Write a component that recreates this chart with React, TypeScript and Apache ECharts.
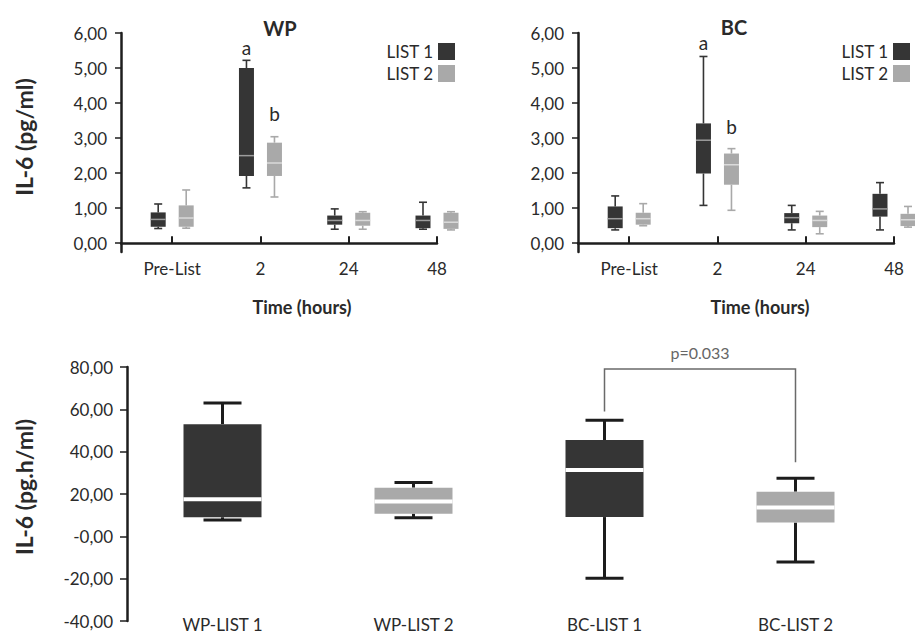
import React, { useEffect, useRef } from "react";
import * as echarts from "echarts";

// ---------- data ----------
const timeCats = ["Pre-List", "2", "24", "48"];
const timePos = [1, 2, 3, 4];
const topTicks = [0, 1, 2, 3, 4, 5, 6];

// [min, q1, median, q3, max]
const wpList1 = [
  [0.42, 0.47, 0.68, 0.88, 1.12],
  [1.58, 1.92, 2.5, 5.0, 5.22],
  [0.4, 0.53, 0.65, 0.79, 0.98],
  [0.4, 0.43, 0.65, 0.79, 1.17],
];
const wpList2 = [
  [0.43, 0.47, 0.72, 1.08, 1.52],
  [1.32, 1.92, 2.29, 2.87, 3.04],
  [0.4, 0.5, 0.65, 0.87, 0.9],
  [0.38, 0.41, 0.6, 0.87, 0.9],
];
const bcList1 = [
  [0.38, 0.43, 0.7, 1.05, 1.35],
  [1.08, 1.99, 2.94, 3.42, 5.33],
  [0.38, 0.57, 0.73, 0.86, 1.08],
  [0.38, 0.76, 0.98, 1.41, 1.73],
];
const bcList2 = [
  [0.5, 0.53, 0.7, 0.87, 1.13],
  [0.94, 1.67, 2.24, 2.56, 2.7],
  [0.27, 0.46, 0.65, 0.79, 0.91],
  [0.46, 0.49, 0.67, 0.84, 1.05],
];
// letters: [time position, list (1|2), text, y value]
const wpLetters = [
  [2, 1, "a", 5.6],
  [2, 2, "b", 3.69],
];
const bcLetters = [
  [2, 1, "a", 5.74],
  [2, 2, "b", 3.34],
];

const aucCats = ["WP-LIST 1", "WP-LIST 2", "BC-LIST 1", "BC-LIST 2"];
const aucBoxes = [
  [7.7, 9, 17.5, 53, 63],
  [8.8, 10.7, 16.4, 23, 25.4],
  [-19.8, 9.1, 31.3, 45.5, 54.8],
  [-12.1, 6.5, 13.6, 21.1, 27.4],
];
const aucList = [1, 2, 1, 2];
// bracket: [from cat, from y, to cat, to y, top y, label y]
const bracket = [[2, 59, 3, 35, 79, 87]];
const pLabel = "p=0.033";

// ---------- styles ----------
const DARK = "#353535";
const LIGHT = "#a9a9a9";
const AXIS = "#1e1e1e";
const TXT = "#2a2a2a";
const FONT = "Lato, 'Open Sans', sans-serif";

const fmt = (v: number) => (Math.abs(v) < 1e-9 && v <= 0 ? "-0,00" : v.toFixed(2).replace(".", ","));
const fmtTop = (v: number) => v.toFixed(2).replace(".", ",");

function boxRenderer(offset: number, boxW: number, capW: number, fillFn: (i: number) => string, whiskFn: (i: number) => string, medFn: (i: number) => string, lw: number, mw: number) {
  return (params: any, api: any) => {
    const x = api.value(0);
    const mn = api.coord([x, api.value(1)]);
    const q1 = api.coord([x, api.value(2)]);
    const md = api.coord([x, api.value(3)]);
    const q3 = api.coord([x, api.value(4)]);
    const mx = api.coord([x, api.value(5)]);
    const i = params.dataIndex;
    const cx = mn[0] + offset;
    const ws = { stroke: whiskFn(i), lineWidth: lw };
    return {
      type: "group",
      children: [
        { type: "line", shape: { x1: cx, y1: mx[1], x2: cx, y2: q3[1] }, style: ws },
        { type: "line", shape: { x1: cx, y1: q1[1], x2: cx, y2: mn[1] }, style: ws },
        { type: "line", shape: { x1: cx - capW / 2, y1: mx[1], x2: cx + capW / 2, y2: mx[1] }, style: ws },
        { type: "line", shape: { x1: cx - capW / 2, y1: mn[1], x2: cx + capW / 2, y2: mn[1] }, style: ws },
        { type: "rect", shape: { x: cx - boxW / 2, y: q3[1], width: boxW, height: q1[1] - q3[1] }, style: { fill: fillFn(i) } },
        { type: "line", shape: { x1: cx - boxW / 2, y1: md[1], x2: cx + boxW / 2, y2: md[1] }, style: { stroke: medFn(i), lineWidth: mw } },
      ],
    };
  };
}

function letterRenderer(params: any, api: any) {
  const p = api.coord([api.value(0), api.value(3)]);
  const off = api.value(1) === 1 ? -14 : 14;
  return {
    type: "text",
    x: p[0] + off,
    y: p[1],
    style: { text: api.value(2), fill: TXT, font: `19px ${FONT}`, align: "center", verticalAlign: "middle" },
  };
}

const topBoxSeries = (name: string, data: number[][], list: number, axisIndex: number) => ({
  type: "custom",
  name,
  xAxisIndex: axisIndex,
  yAxisIndex: axisIndex,
  clip: false,
  itemStyle: { color: list === 1 ? DARK : LIGHT },
  data: data.map((d, i) => [timePos[i], ...d]),
  renderItem: boxRenderer(
    list === 1 ? -14 : 14,
    15,
    8,
    () => (list === 1 ? DARK : LIGHT),
    () => (list === 1 ? DARK : LIGHT),
    () => (list === 1 ? "#9c9c9c" : "#dadada"),
    1.6,
    1.5
  ),
});

const letterSeries = (data: any[], axisIndex: number) => ({
  type: "custom",
  xAxisIndex: axisIndex,
  yAxisIndex: axisIndex,
  clip: false,
  silent: true,
  dimensions: ["x", "list", "text", "y"],
  encode: { x: 0, y: 3 },
  data,
  renderItem: letterRenderer,
});

const topXAxis = (gridIndex: number) => ({
  type: "value",
  gridIndex,
  min: 0.42,
  max: 4,
  axisLine: { show: true, lineStyle: { color: AXIS, width: 2.5 } },
  axisTick: { show: true, inside: true, length: 7, lineStyle: { color: AXIS, width: 2 }, customValues: timePos },
  axisLabel: {
    customValues: timePos,
    formatter: (v: number) => timeCats[Math.round(v) - 1] ?? "",
    color: TXT,
    fontFamily: FONT,
    fontSize: 17,
    margin: 8,
  },
  splitLine: { show: false },
});

const topYAxis = (gridIndex: number) => ({
  type: "value",
  gridIndex,
  min: -0.25,
  max: 6,
  axisLine: { show: true, lineStyle: { color: AXIS, width: 2.5 } },
  axisTick: { show: true, length: 6, lineStyle: { color: AXIS, width: 1.5 }, customValues: topTicks },
  axisLabel: { customValues: topTicks, formatter: fmtTop, color: TXT, fontFamily: FONT, fontSize: 17, margin: 14 },
  splitLine: { show: false },
});

export default function App() {
  const ref = useRef<HTMLDivElement>(null);
  useEffect(() => {
    if (!ref.current) return;
    const chart = echarts.init(ref.current, null, { renderer: "svg" });
    const legendBase = {
      orient: "vertical",
      align: "right",
      top: 38,
      itemWidth: 17,
      itemHeight: 17,
      itemGap: 5,
      selectedMode: false,
      textStyle: { color: TXT, fontFamily: FONT, fontSize: 17, padding: [0, 0, 0, 0] },
      data: [
        { name: "LIST 1", icon: "rect", itemStyle: { color: DARK } },
        { name: "LIST 2", icon: "rect", itemStyle: { color: LIGHT } },
      ],
    };
    const option: any = {
      animation: false,
      backgroundColor: "#ffffff",
      textStyle: { fontFamily: FONT },
      legend: [
        { ...legendBase, right: 455 },
        { ...legendBase, right: 0 },
      ],
      grid: [
        { left: 121, top: 33, width: 316, height: 219, outerBoundsMode: "none" },
        { left: 578, top: 33, width: 316, height: 219, outerBoundsMode: "none" },
        { left: 127, top: 367, width: 764, height: 254, outerBoundsMode: "none" },
      ],
      xAxis: [
        topXAxis(0),
        topXAxis(1),
        {
          type: "category",
          gridIndex: 2,
          data: aucCats,
          axisLine: { show: false },
          axisTick: { show: false },
          axisLabel: { color: TXT, fontFamily: FONT, fontSize: 17, lineHeight: 17, margin: -5 },
          splitLine: { show: false },
        },
      ],
      yAxis: [
        topYAxis(0),
        topYAxis(1),
        {
          type: "value",
          gridIndex: 2,
          min: -40,
          max: 80,
          interval: 20,
          axisLine: { show: true, lineStyle: { color: AXIS, width: 2.5 } },
          axisTick: { show: true, length: 7, lineStyle: { color: AXIS, width: 1.5 } },
          axisLabel: { formatter: fmt, color: TXT, fontFamily: FONT, fontSize: 17, margin: 14 },
          splitLine: { show: false },
        },
      ],
      series: [
        topBoxSeries("LIST 1", wpList1, 1, 0),
        topBoxSeries("LIST 2", wpList2, 2, 0),
        topBoxSeries("LIST 1", bcList1, 1, 1),
        topBoxSeries("LIST 2", bcList2, 2, 1),
        letterSeries(wpLetters, 0),
        letterSeries(bcLetters, 1),
        {
          type: "custom",
          name: "AUC",
          xAxisIndex: 2,
          yAxisIndex: 2,
          clip: false,
          data: aucBoxes.map((d, i) => [i, ...d]),
          renderItem: boxRenderer(
            0,
            78,
            38,
            (i) => (aucList[i] === 1 ? DARK : LIGHT),
            () => "#1c1c1c",
            () => "#ffffff",
            3,
            4
          ),
        },
        {
          type: "custom",
          name: "bracket",
          xAxisIndex: 2,
          yAxisIndex: 2,
          clip: false,
          silent: true,
          data: bracket,
          renderItem: (params: any, api: any) => {
            const a = api.coord([api.value(0), api.value(1)]);
            const b = api.coord([api.value(2), api.value(3)]);
            const top = api.coord([api.value(0), api.value(4)])[1];
            const ly = api.coord([api.value(0), api.value(5)])[1];
            return {
              type: "group",
              children: [
                {
                  type: "polyline",
                  shape: { points: [[a[0], a[1]], [a[0], top], [b[0], top], [b[0], b[1]]] },
                  style: { stroke: "#6a6a6a", lineWidth: 1.5, fill: null },
                },
                {
                  type: "text",
                  x: (a[0] + b[0]) / 2,
                  y: ly,
                  style: { text: pLabel, fill: "#666666", font: `16px ${FONT}`, align: "center", verticalAlign: "middle" },
                },
              ],
            };
          },
        },
      ],
      graphic: [
        { type: "text", x: 280, y: 28, style: { text: "WP", fill: TXT, font: `bold 20px ${FONT}`, align: "center", verticalAlign: "middle" } },
        { type: "text", x: 734, y: 27, style: { text: "BC", fill: TXT, font: `bold 20px ${FONT}`, align: "center", verticalAlign: "middle" } },
        { type: "text", x: 302, y: 307, style: { text: "Time (hours)", fill: TXT, font: `bold 18px ${FONT}`, align: "center", verticalAlign: "middle" } },
        { type: "text", x: 760, y: 307, style: { text: "Time (hours)", fill: TXT, font: `bold 18px ${FONT}`, align: "center", verticalAlign: "middle" } },
        { type: "text", x: 24, y: 137, rotation: Math.PI / 2, style: { text: "IL-6 (pg/ml)", fill: TXT, font: `bold 23px ${FONT}`, align: "center", verticalAlign: "middle" } },
        { type: "text", x: 24, y: 487, rotation: Math.PI / 2, style: { text: "IL-6 (pg.h/ml)", fill: TXT, font: `bold 23px ${FONT}`, align: "center", verticalAlign: "middle" } },
      ],
    };
    chart.setOption(option);
    return () => chart.dispose();
  }, []);
  return <div ref={ref} style={{ position: "fixed", left: 0, top: 0, width: 915, height: 636 }} />;
}
